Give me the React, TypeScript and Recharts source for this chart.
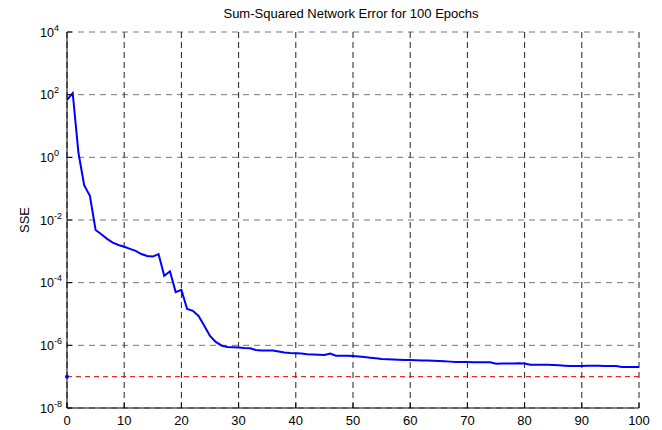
import {
  LineChart,
  Line,
  XAxis,
  YAxis,
  CartesianGrid,
  ReferenceLine,
  ReferenceDot,
} from 'recharts';

const FONT = '"Liberation Sans", Arial, Helvetica, sans-serif';

// training epochs (x)
const epochs = [
  0, 1, 2, 3, 4, 5, 6, 7, 8, 9, 10, 11, 12, 13, 14, 15, 16, 17, 18, 19, 20,
  21, 22, 23, 24, 25, 26, 27, 28, 29, 30, 31, 32, 33, 34, 35, 36, 37, 38, 39, 40,
  41, 42, 43, 44, 45, 46, 47, 48, 49, 50, 51, 52, 53, 54, 55, 56, 57, 58, 59, 60,
  61, 62, 63, 64, 65, 66, 67, 68, 69, 70, 71, 72, 73, 74, 75, 76, 77, 78, 79, 80,
  81, 82, 83, 84, 85, 86, 87, 88, 89, 90, 91, 92, 93, 94, 95, 96, 97, 98, 99, 100,
];

// sum-squared error per epoch
const sse = [
  68, 112, 1.4, 0.13, 0.059, 0.0048, 0.0035, 0.0025, 0.0019, 0.0016, 0.0014,
  0.0012, 0.00103, 8.2e-4, 7.1e-4, 6.8e-4, 8.2e-4, 1.66e-4, 2.3e-4, 5.0e-5, 5.9e-5,
  1.45e-5, 1.26e-5, 8.7e-6, 4.2e-6, 2.0e-6, 1.29e-6, 9.9e-7, 8.85e-7, 8.76e-7, 8.53e-7,
  8.22e-7, 8.05e-7, 7.1e-7, 6.89e-7, 6.85e-7, 6.8e-7, 6.36e-7, 5.9e-7, 5.69e-7, 5.57e-7,
  5.45e-7, 5.21e-7, 5.1e-7, 4.99e-7, 4.92e-7, 5.49e-7, 4.67e-7, 4.64e-7, 4.61e-7, 4.57e-7,
  4.44e-7, 4.25e-7, 4.03e-7, 3.85e-7, 3.66e-7, 3.58e-7, 3.5e-7, 3.45e-7, 3.4e-7, 3.38e-7,
  3.35e-7, 3.31e-7, 3.28e-7, 3.23e-7, 3.16e-7, 3.09e-7, 3.02e-7, 2.94e-7, 2.94e-7, 2.92e-7,
  2.9e-7, 2.9e-7, 2.88e-7, 2.86e-7, 2.6e-7, 2.62e-7, 2.63e-7, 2.65e-7, 2.67e-7, 2.63e-7,
  2.41e-7, 2.41e-7, 2.4e-7, 2.38e-7, 2.35e-7, 2.3e-7, 2.25e-7, 2.19e-7, 2.19e-7, 2.2e-7,
  2.22e-7, 2.22e-7, 2.22e-7, 2.21e-7, 2.21e-7, 2.19e-7, 2.04e-7, 2.04e-7, 2.04e-7, 2.04e-7,
];

const errorGoal = 1e-7;

const xTicks = [0, 10, 20, 30, 40, 50, 60, 70, 80, 90, 100];
const yTicks = [1e-8, 1e-6, 1e-4, 1e-2, 1, 1e2, 1e4];

const data = epochs.map((epoch, i) => ({ epoch, sse: sse[i] }));

// matlab style: ticks point inward, labels outside
const BottomTick = ({ x, y, payload }: any) => (
  <g>
    <line x1={x} y1={y} x2={x} y2={y - 5} stroke="#000" />
    <text x={x} y={y + 17} textAnchor="middle" fontSize={13} fontFamily={FONT} fill="#000">
      {payload.value}
    </text>
  </g>
);

const LeftTick = ({ x, y, payload }: any) => {
  const exp = Math.round(Math.log10(payload.value));
  return (
    <g>
      <line x1={x} y1={y} x2={x + 5} y2={y} stroke="#000" />
      <text x={x - 27} y={y + 4.5} fontSize={12.5} fontFamily={FONT} fill="#000">
        10
        <tspan dy={-6} fontSize={9}>
          {exp}
        </tspan>
      </text>
    </g>
  );
};

const TopTick = ({ x, y }: any) => (
  <line x1={x} y1={y} x2={x} y2={y + 5} stroke="#000" />
);

const RightTick = ({ x, y }: any) => (
  <line x1={x} y1={y} x2={x - 5} y2={y} stroke="#000" />
);

export default function App() {
  return (
    <div style={{ position: 'absolute', left: 0, top: 0, width: 662, height: 430, background: '#fff' }}>
      <div
        style={{
          position: 'absolute',
          left: 0,
          top: 7,
          width: 702,
          textAlign: 'center',
          fontFamily: FONT,
          fontSize: 13,
          lineHeight: 1,
          color: '#000',
        }}
      >
        Sum-Squared Network Error for 100 Epochs
      </div>
      <LineChart
        width={662}
        height={430}
        data={data}
        margin={{ top: 32, right: 23, bottom: 0, left: 0 }}
      >
        <CartesianGrid vertical={false} stroke="#777" strokeDasharray="6 5" />
        <CartesianGrid horizontal={false} stroke="#222" strokeDasharray="6 4" />

        <XAxis
          dataKey="epoch"
          type="number"
          domain={[0, 100]}
          ticks={xTicks}
          height={22}
          tickSize={0}
          tickMargin={0}
          tickLine={false}
          axisLine={{ stroke: '#000' }}
          tick={<BottomTick />}
          interval={0}
        />
        <XAxis
          xAxisId="top"
          orientation="top"
          type="number"
          domain={[0, 100]}
          ticks={xTicks}
          height={0}
          tickSize={0}
          tickMargin={0}
          tickLine={false}
          axisLine={{ stroke: '#000' }}
          tick={<TopTick />}
          interval={0}
        />
        <YAxis
          type="number"
          scale="log"
          domain={[1e-8, 1e4]}
          allowDataOverflow
          ticks={yTicks}
          width={67}
          tickSize={0}
          tickMargin={0}
          tickLine={false}
          axisLine={{ stroke: '#000' }}
          tick={<LeftTick />}
          interval={0}
          label={{
            content: ({ viewBox }: any) => (
              <text
                x={viewBox.x + 29}
                y={viewBox.y + viewBox.height / 2}
                transform={`rotate(-90, ${viewBox.x + 29}, ${viewBox.y + viewBox.height / 2})`}
                textAnchor="middle"
                fontSize={13}
                fontFamily={FONT}
                fill="#000"
              >
                SSE
              </text>
            ),
          }}
        />
        <YAxis
          yAxisId="right"
          orientation="right"
          type="number"
          scale="log"
          domain={[1e-8, 1e4]}
          allowDataOverflow
          ticks={yTicks}
          width={0}
          tickSize={0}
          tickMargin={0}
          tickLine={false}
          axisLine={{ stroke: '#000' }}
          tick={<RightTick />}
          interval={0}
        />

        <ReferenceLine y={errorGoal} stroke="#e00000" strokeDasharray="5 4" />
        <ReferenceDot x={0} y={errorGoal} r={2} fill="#0000ff" stroke="none" />

        <Line
          type="linear"
          dataKey="sse"
          stroke="#0000ff"
          strokeWidth={2}
          dot={false}
          activeDot={false}
          isAnimationActive={false}
        />
      </LineChart>
    </div>
  );
}
